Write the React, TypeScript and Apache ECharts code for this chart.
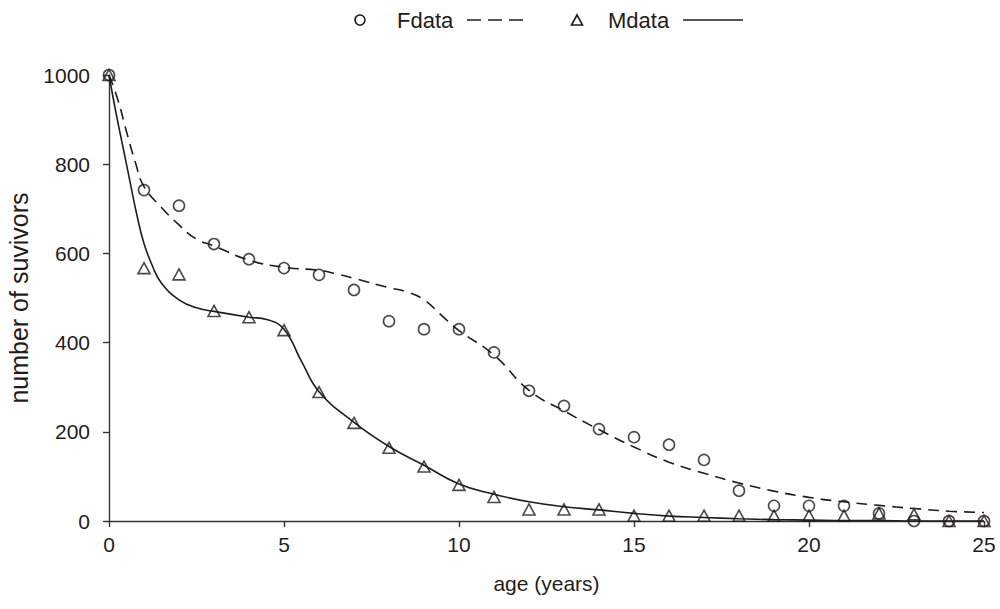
import React, { useEffect, useRef } from "react";
import * as echarts from "echarts";

const ageYears = [0, 1, 2, 3, 4, 5, 6, 7, 8, 9, 10, 11, 12, 13, 14, 15, 16, 17, 18, 19, 20, 21, 22, 23, 24, 25];
const fData = [1000, 742, 707, 621, 587, 567, 552, 518, 448, 430, 430, 378, 292, 258, 206, 188, 171, 137, 68, 34, 34, 34, 17, 0, 0, 0];
const mData = [1000, 567, 553, 471, 457, 428, 289, 220, 164, 122, 81, 54, 26, 26, 26, 12, 12, 12, 12, 12, 12, 12, 17, 15, 0, 0];

const fFitX = [0, 0.25, 0.5, 0.75, 1, 1.5, 2, 2.5, 3, 4, 5, 6, 6.5, 7, 8, 8.5, 9, 9.5, 10, 11, 12, 13, 14, 15, 16, 17, 18, 19, 20, 21, 22, 23, 24, 25];
const fFitY = [1000, 945, 873, 805, 750, 703, 664, 632, 617, 585, 569, 562, 554, 544, 523, 514, 496, 461, 427, 372, 293, 247, 205, 166, 132, 107, 85, 67, 53, 43, 35, 28, 22, 19];

const mFitX = [0, 0.2, 0.4, 0.6, 0.8, 1, 1.25, 1.5, 2, 2.5, 3, 4, 4.5, 5, 5.5, 6, 7, 8, 9, 10, 11, 12, 13, 14, 15, 16, 17, 18, 19, 20, 21, 22, 23, 24, 25];
const mFitY = [1000, 915, 838, 761, 685, 622, 570, 533, 496, 478, 470, 457, 452, 430, 358, 290, 221, 167, 125, 83, 60, 43, 32, 25, 17, 11, 8, 5, 3, 2, 1, 1, 0, 0, 0];

const xTickLabels = ["0", "5", "10", "15", "20", "25"];
const yTickLabels = ["0", "200", "400", "600", "800", "1000"];
const legendNames = ["Fdata", "Mdata"];
const xTitle = "age (years)";
const yTitle = "number of suvivors";

const INK = "#1f1c1d";
const AXIS = "#333333";
const FONT = "'Liberation Sans', Arial, sans-serif";
const FS = 21;
const LEG_FS = 22;
const YT_FS = 25;

export default function App() {
  const ref = useRef<HTMLDivElement>(null);
  useEffect(() => {
    document.body.style.margin = "0";
    if (!ref.current) return;
    const chart = echarts.init(ref.current, null, { renderer: "svg" });
    const pairs = (xs: number[], ys: number[]) => xs.map((x, i) => [x, ys[i]]);
    const ly = 20;
    chart.setOption({
      animation: false,
      backgroundColor: "#ffffff",
      textStyle: { fontFamily: FONT, color: INK },
      grid: { left: 109, right: 16, top: 75, bottom: 88, containLabel: false, outerBoundsMode: "none" },
      xAxis: {
        type: "value",
        min: 0,
        max: 25,
        interval: 5,
        name: xTitle,
        nameLocation: "middle",
        nameGap: 52,
        nameTextStyle: { fontSize: FS, color: INK, fontFamily: FONT },
        axisLine: { lineStyle: { color: AXIS, width: 1.4 } },
        axisTick: { inside: false, length: 6, lineStyle: { color: AXIS, width: 1.4 } },
        axisLabel: {
          fontSize: FS,
          color: INK,
          fontFamily: FONT,
          margin: 13,
          formatter: (v: number) => xTickLabels[Math.round(v / 5)] ?? String(v),
        },
        splitLine: { show: false },
      },
      yAxis: {
        type: "value",
        min: 0,
        max: 1000,
        interval: 200,
        name: yTitle,
        nameLocation: "middle",
        nameGap: 78,
        nameTextStyle: { fontSize: YT_FS, color: INK, fontFamily: FONT },
        axisLine: { show: true, lineStyle: { color: AXIS, width: 1.4 } },
        axisTick: { show: true, inside: false, length: 6, lineStyle: { color: AXIS, width: 1.4 } },
        axisLabel: {
          fontSize: FS,
          color: INK,
          fontFamily: FONT,
          margin: 19,
          formatter: (v: number) => yTickLabels[Math.round(v / 200)] ?? String(v),
        },
        splitLine: { show: false },
      },
      series: [
        {
          name: "Ffit",
          type: "line",
          data: pairs(fFitX, fFitY),
          smooth: 0.5,
          showSymbol: false,
          lineStyle: { color: INK, width: 1.6, type: [11, 7] },
          z: 2,
        },
        {
          name: "Mfit",
          type: "line",
          data: pairs(mFitX, mFitY),
          smooth: 0.45,
          showSymbol: false,
          lineStyle: { color: INK, width: 1.6, type: "solid" },
          z: 2,
        },
        {
          name: legendNames[0],
          type: "scatter",
          data: pairs(ageYears, fData),
          symbol: "circle",
          symbolSize: 11,
          itemStyle: { color: "rgba(0,0,0,0)", borderColor: INK, borderWidth: 1.6 },
          z: 3,
        },
        {
          name: legendNames[1],
          type: "scatter",
          data: pairs(ageYears, mData),
          symbol: "triangle",
          symbolSize: [12, 11],
          itemStyle: { color: "rgba(0,0,0,0)", borderColor: INK, borderWidth: 1.6 },
          z: 3,
        },
      ],
      graphic: [
        { type: "circle", shape: { cx: 360, cy: ly, r: 5 }, style: { fill: "none", stroke: INK, lineWidth: 1.6 } },
        { type: "text", x: 397, y: ly, style: { text: legendNames[0], font: `${LEG_FS}px ${FONT}`, fill: INK, verticalAlign: "middle" } },
        { type: "line", shape: { x1: 467, y1: ly, x2: 523, y2: ly }, style: { stroke: INK, lineWidth: 1.6, lineDash: [14, 7] } },
        { type: "polygon", shape: { points: [[577, ly - 5], [582.5, ly + 5], [571.5, ly + 5]] }, style: { fill: "none", stroke: INK, lineWidth: 1.6 } },
        { type: "text", x: 608, y: ly, style: { text: legendNames[1], font: `${LEG_FS}px ${FONT}`, fill: INK, verticalAlign: "middle" } },
        { type: "line", shape: { x1: 683, y1: ly, x2: 743, y2: ly }, style: { stroke: INK, lineWidth: 1.6 } },
      ],
    });
    return () => chart.dispose();
  }, []);
  return <div ref={ref} style={{ width: 1000, height: 609 }} />;
}
